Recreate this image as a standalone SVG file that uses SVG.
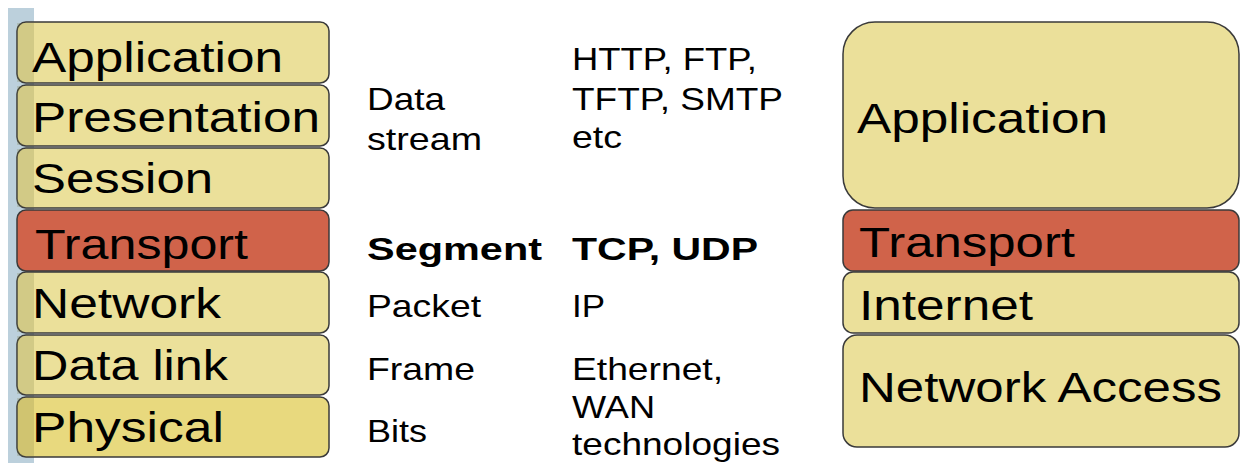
<svg xmlns="http://www.w3.org/2000/svg" width="1241" height="463" viewBox="0 0 1241 463">
<style>
.box{fill:#ebe09a;stroke:#3a3a3a;stroke-width:1.5}
.red{fill:#d0634a;stroke:#3a3a3a;stroke-width:1.5}
.big{font-family:"Liberation Sans",Arial,sans-serif;font-size:42px;fill:#000}
.mid{font-family:"Liberation Sans",Arial,sans-serif;font-size:32px;fill:#000}
.b{font-weight:bold}
.ov{fill:#7a7a40;opacity:0.22}
</style>
<rect width="1241" height="463" fill="#ffffff"/>
<rect x="8" y="8" width="26" height="455" fill="#bcd0dc"/>
<g id="osi-application"><rect class="box" x="17" y="22" width="312" height="61" rx="9"/><rect class="ov" x="17" y="23" width="17" height="59"/><text class="big" x="32" y="72" textLength="251" lengthAdjust="spacingAndGlyphs">Application</text></g>
<g id="osi-presentation"><rect class="box" x="17" y="85" width="312" height="61" rx="9"/><rect class="ov" x="17" y="86" width="17" height="59"/><text class="big" x="32" y="132" textLength="288" lengthAdjust="spacingAndGlyphs">Presentation</text></g>
<g id="osi-session"><rect class="box" x="17" y="148" width="312" height="60" rx="9"/><rect class="ov" x="17" y="149" width="17" height="58"/><text class="big" x="32" y="193" textLength="181" lengthAdjust="spacingAndGlyphs">Session</text></g>
<g id="osi-transport"><rect class="red" x="17" y="210" width="312" height="61" rx="9"/><text class="big" x="35" y="259" textLength="213" lengthAdjust="spacingAndGlyphs">Transport</text></g>
<g id="osi-network"><rect class="box" x="17" y="272" width="312" height="61" rx="9"/><rect class="ov" x="17" y="273" width="17" height="59"/><text class="big" x="32" y="318" textLength="189" lengthAdjust="spacingAndGlyphs">Network</text></g>
<g id="osi-datalink"><rect class="box" x="17" y="335" width="312" height="60" rx="9"/><rect class="ov" x="17" y="336" width="17" height="58"/><text class="big" x="32" y="380" textLength="196" lengthAdjust="spacingAndGlyphs">Data link</text></g>
<g id="osi-physical"><rect class="box" x="17" y="397" width="312" height="60" rx="9" style="fill:#e8d97e"/><rect class="ov" x="17" y="398" width="17" height="58"/><text class="big" x="32" y="442" textLength="192" lengthAdjust="spacingAndGlyphs">Physical</text></g>
<g id="pdu-labels">
<text class="mid" x="367" y="110" textLength="78" lengthAdjust="spacingAndGlyphs">Data</text>
<text class="mid" x="367" y="150" textLength="115" lengthAdjust="spacingAndGlyphs">stream</text>
<text class="mid b" x="367" y="260" textLength="175" lengthAdjust="spacingAndGlyphs">Segment</text>
<text class="mid" x="367" y="317" textLength="114" lengthAdjust="spacingAndGlyphs">Packet</text>
<text class="mid" x="367" y="380" textLength="108" lengthAdjust="spacingAndGlyphs">Frame</text>
<text class="mid" x="367" y="442" textLength="60" lengthAdjust="spacingAndGlyphs">Bits</text>
</g>
<g id="protocol-labels">
<text class="mid" x="572" y="70" textLength="185" lengthAdjust="spacingAndGlyphs">HTTP, FTP,</text>
<text class="mid" x="572" y="110" textLength="211" lengthAdjust="spacingAndGlyphs">TFTP, SMTP</text>
<text class="mid" x="572" y="148" textLength="50" lengthAdjust="spacingAndGlyphs">etc</text>
<text class="mid b" x="572" y="260" textLength="186" lengthAdjust="spacingAndGlyphs">TCP, UDP</text>
<text class="mid" x="572" y="317" textLength="33" lengthAdjust="spacingAndGlyphs">IP</text>
<text class="mid" x="572" y="380" textLength="151" lengthAdjust="spacingAndGlyphs">Ethernet,</text>
<text class="mid" x="572" y="418" textLength="83" lengthAdjust="spacingAndGlyphs">WAN</text>
<text class="mid" x="572" y="455" textLength="208" lengthAdjust="spacingAndGlyphs">technologies</text>
</g>
<g id="tcpip-application"><rect class="box" x="843" y="22" width="396" height="186" rx="32"/><text class="big" x="857" y="133" textLength="251" lengthAdjust="spacingAndGlyphs">Application</text></g>
<g id="tcpip-transport"><rect class="red" x="843" y="210" width="396" height="61" rx="10"/><text class="big" x="859" y="257" textLength="216" lengthAdjust="spacingAndGlyphs">Transport</text></g>
<g id="tcpip-internet"><rect class="box" x="843" y="272" width="396" height="61" rx="10"/><text class="big" x="859" y="320" textLength="174" lengthAdjust="spacingAndGlyphs">Internet</text></g>
<g id="tcpip-network-access"><rect class="box" x="843" y="335" width="396" height="112" rx="14"/><text class="big" x="859" y="402" textLength="363" lengthAdjust="spacingAndGlyphs">Network Access</text></g>
<g id="connectors"></g>
</svg>
